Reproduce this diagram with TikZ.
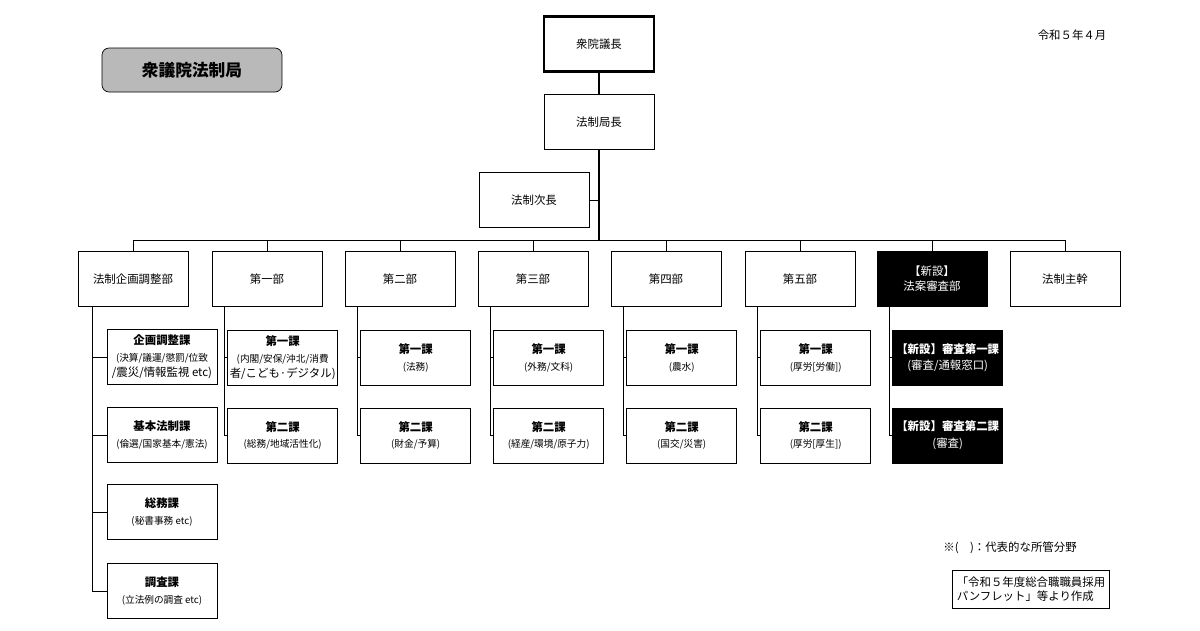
\documentclass[tikz,border=0pt]{standalone}
\usepackage{fontspec}
\setmainfont{Noto Sans CJK JP}
\usetikzlibrary{positioning}
\tikzset{unit/.style={draw,rectangle,minimum width=2.2cm,minimum height=1.1cm,inner sep=1pt,align=center,font=\fontsize{6.5}{8.5}\selectfont},
    newunit/.style={unit,fill=black,text=white},
    topunit/.style={unit,line width=1.2pt},
    conn/.style={line width=0.5pt},
    trunk/.style={line width=1.4pt}
}
\begin{document}
\begin{tikzpicture}[x=0.02cm,y=-0.02cm]
\useasboundingbox (0,0) rectangle (1200,630);

\node (speaker) [topunit] at (599,44) {衆院議長};
\node (chief) [unit] at (599,122) {法制局長};
\node (deputy) [unit] at (534,200) {法制次長};

\node (title) [draw,rounded corners=4pt,fill=gray!55,minimum width=3.6cm,minimum height=0.88cm,font=\fontsize{9.5}{11}\selectfont\bfseries] at (192,70) {衆議院法制局};
\node (date) [font=\fontsize{6.5}{8}\selectfont] at (1072,35) {令和５年４月};

% departments
\node (d 1) [unit] at (133,279) {法制企画調整部};
\node (d 2) [unit] at (267,279) {第一部};
\node (d 3) [unit] at (400,279) {第二部};
\node (d 4) [unit] at (533,279) {第三部};
\node (d 5) [unit] at (666,279) {第四部};
\node (d 6) [unit] at (800,279) {第五部};
\node (d 7) [newunit] at (932,279) {【新設】\\法案審査部};
\node (d 8) [unit] at (1065,279) {法制主幹};

\draw [trunk] (speaker) -- (chief);
\coordinate (bus) at (599,240);
\draw [trunk] (chief) -- (bus);
\draw [conn] (deputy.east) -- (deputy.east -| bus);
\draw [conn] (d 1.north |- bus) -- (d 8.north |- bus);
\foreach \i in {1,...,8}
  \draw [conn] (d \i.north |- bus) -- (d \i.north);

% sections of the planning department
\node (s 1 1) [unit] at (162,357) {{\bfseries 企画調整課}\\[1pt]\fontsize{5.5}{7}\selectfont(決算/議運/懲罰/位致\\/震災/情報監視 etc)};
\node (s 1 2) [unit] at (162,435) {{\bfseries 基本法制課}\\[1pt]\fontsize{5.5}{7}\selectfont(倫選/国家基本/憲法)};
\node (s 1 3) [unit] at (162,512) {{\bfseries 総務課}\\[1pt]\fontsize{5.5}{7}\selectfont(秘書事務 etc)};
\node (s 1 4) [unit] at (162,591) {{\bfseries 調査課}\\[1pt]\fontsize{5.5}{7}\selectfont(立法例の調査 etc)};
\coordinate (spine) at (92,306);
\draw [conn] (spine) |- (s 1 4.west);
\foreach \j in {1,...,3}
  \draw [conn] (s 1 \j.west -| spine) -- (s 1 \j.west);

% sections of the other departments
\foreach \i/\ta/\tb in {2/{(内閣/安保/沖北/消費\\者/こども·デジタル)}/{(総務/地域活性化)},
    3/{(法務)}/{(財金/予算)},
    4/{(外務/文科)}/{(経産/環境/原子力)},
    5/{(農水)}/{(国交/災害)},
    6/{(厚労[労働])}/{(厚労[厚生])}} {
  \node (s \i 1) [unit,below right=0.46cm and -1.9cm of d \i] {{\bfseries 第一課}\\[1pt]\fontsize{5.5}{7}\selectfont\ta};
  \node (s \i 2) [unit,below=0.44cm of s \i 1] {{\bfseries 第二課}\\[1pt]\fontsize{5.5}{7}\selectfont\tb};
  \draw [conn] ([xshift=0.26cm]d \i.south west) |- (s \i 2.west);
  \draw [conn] ([xshift=0.26cm]d \i.south west |- s \i 1.west) -- (s \i 1.west);
}
\node (s 7 1) [newunit,below right=0.46cm and -1.9cm of d 7] {{\bfseries 【新設】審査第一課}\\[1pt](審査/通報窓口)};
\node (s 7 2) [newunit,below=0.44cm of s 7 1] {{\bfseries 【新設】審査第二課}\\[1pt](審査)};
\draw [conn] ([xshift=0.26cm]d 7.south west) |- (s 7 2.west);
\draw [conn] ([xshift=0.26cm]d 7.south west |- s 7 1.west) -- (s 7 1.west);

% notes
\node (note) [font=\fontsize{6.5}{8}\selectfont] at (1010,548) {※(\quad)：代表的な所管分野};
\node (source) [draw,align=left,minimum width=3.14cm,minimum height=0.76cm,inner sep=2pt,font=\fontsize{6.5}{8}\selectfont] at (1031,589) {「令和５年度総合職職員採用\\パンフレット」等より作成};
\end{tikzpicture}
\end{document}
